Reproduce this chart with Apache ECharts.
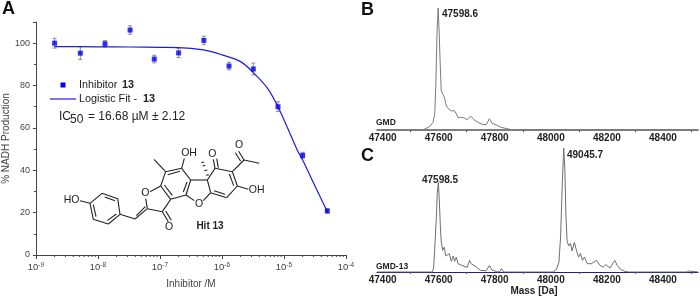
<!DOCTYPE html>
<html><head><meta charset="utf-8">
<style>html,body{margin:0;padding:0;background:#fff}#c{width:700px;height:297px}</style>
<script src="https://cdn.jsdelivr.net/npm/echarts@6/dist/echarts.min.js"></script>
</head><body><div id="c"></div>
<script>
// Panel A
const inhibitorConc=[2e-9,5.2e-9,1.3e-8,3.3e-8,8.1e-8,2e-7,5.1e-7,1.3e-6,3.2e-6,8e-6,2e-5,5e-5];
const nadhProduction=[100,95.3,99.7,106.2,92.5,95.4,101.3,89.2,87.8,70,47,20.8];
const nadhError=[2.3,3,1.5,2,1.8,2.2,2,1.8,2.8,2.3,1.5,1];
const fitConc=[2e-9,1e-8,3.2e-8,1e-7,2e-7,5e-7,1e-6,2e-6,3.2e-6,5.4e-6,8e-6,1.12e-5,1.64e-5,2e-5,3.2e-5,5e-5];
const fitValue=[98.4,98.3,98.2,98,97.9,96.8,94.5,91.3,86.1,78.8,70,60.5,49.5,44.8,32.2,20.4];
const yTicksA=[0,20,40,60,80,100];
const xMinorDigits=[2,3,4,5,6,7,8,9];
const xDecades=[1e-9,1e-8,1e-7,1e-6,1e-5];
// Panel B
const massB=[47380,47544,47550,47568,47580,47586,47590,47594,47598,47601,47605,47609,47615,47621,47625,47631,47638,47645,47655,47663,47669,47678,47690,47702,47714,47726,47740,47758,47770,47781,47790,47806,47821,47841,47859,48525];
const intensityB=[0,0,1.2,2.9,6.4,13.3,38,79,100,84.6,57,32.5,29,26.5,21.6,18.3,19.3,15.5,16,13.3,10,10.5,10,8.4,11.4,8.4,6.2,4.5,4.5,9.2,5.6,4,2.3,1.2,0.3,0];
// Panel C
const massC=[47380,47577,47582,47587,47592,47595,47599,47602,47606,47609,47614,47620,47625,47631,47638,47645,47652,47657,47663,47669,47683,47702,47710,47716,47721,47734,47750,47770,47781,47790,47810,47819,47824,47831,48008,48020,48029,48035,48041,48046,48050,48054,48058,48064,48070,48076,48084,48092,48099,48106,48113,48120,48130,48145,48163,48175,48187,48196,48211,48228,48237,48249,48265,48277,48485,48493,48500,48525];
const intensityC=[0,0,3.2,23.5,45,64,72,59,37,25,17.4,20,13,12,14.7,8.6,12.8,8.6,12,6.7,5.3,3.7,9.4,6.7,8,4,1.3,1,5.3,1.6,0,0.5,2.7,0,0,2,8,29,72,100,83,45,25,21,23,17,24,17,12,15,9.4,12,6.7,6.7,9.4,5.3,4,6,3.2,9.4,5.3,2,0.5,0,0,0.8,0,0];
const massLabels=[47400,47600,47800,48000,48200,48400];
const massTicks=[47500,47700,47900,48100,48300,48500];

const zip=(a,b)=>a.map((v,i)=>[v,b[i]]);
const FONT='"Liberation Sans",Arial,sans-serif';
const DARK='#444', SPEC='#6e6e6e';

// structure drawing (reference units: 3 per pixel, origin 0,150)
const P=(x,y)=>[x/3,150+y/3];
const singleBonds=[
 [270,160,306,130],[353,146,360,193],[325,222,280,208],[240,152,270,160],[360,193,405,207],
 [442,176,437,146],[450,125,482,108],[482,108,497,65],[442,176,487,185],[487,185,512,148],
 [497,65,462,28],[545,55,572,90],[558,135,512,148],[545,55,553,25],[572,90,622,90],
 [622,90,632,128],[632,128,610,152],[583,152,558,135],[622,90,645,55],[645,55,697,65],
 [712,108,680,143],[697,65,732,30],[732,30,778,40],[712,108,745,118]];
const doubleBonds=[
 [306,130,353,146,314,141,345,152],[360,193,325,222,349,192,322,212],[280,208,270,160,288,200,280,164],
 [405,207,442,176,409,197,436,170],[487,185,505,215,497,183,514,211],[512,148,482,108,517,136,493,105],
 [497,65,545,55,503,74,540,64],[572,90,558,135,561,96,550,126],[697,65,712,108,688,72,701,107],
 [680,143,632,128,675,133,642,122],[645,55,640,28,655,53,650,26],[732,30,716,4,722,34,706,8]];
const hashBonds=[[618,76,627,74],[613,62,622,60],[608,48,616,46],[604,38,612,36]];
const atoms=[['HO',215,151],['O',436,130],['O',507,230],['OH',567,10],['O',597,161],['O',637,12],['O',717,-15],['OH',770,121]];
const mol=[];
const seg=(a,b,c,d,w)=>mol.push({type:'line',shape:{x1:P(a,b)[0],y1:P(a,b)[1],x2:P(c,d)[0],y2:P(c,d)[1]},style:{stroke:'#222',lineWidth:w||1.1},silent:true});
singleBonds.forEach(s=>seg(...s));
doubleBonds.forEach(d=>{seg(d[0],d[1],d[2],d[3]);seg(d[4],d[5],d[6],d[7]);});
hashBonds.forEach(h=>seg(...h));
const txt=(t,x,y,o)=>({type:'text',x,y,silent:true,style:Object.assign({text:t,font:'10px '+FONT,fill:'#222',align:'left',verticalAlign:'middle'},o||{})});
atoms.forEach(a=>{const p=P(a[1],a[2]);mol.push(txt(a[0],p[0],p[1],{align:'center',font:'10.5px '+FONT}));});

const sup10=v=>'{b|10}{s|'+Math.round(Math.log10(v))+'}';
const tickSeries=(values,len)=>({type:'custom',xAxisIndex:0,yAxisIndex:0,silent:true,z:1,data:values.map(v=>[v,0]),
  renderItem:(p,api)=>{const c=api.coord([api.value(0),0]);return {type:'line',shape:{x1:c[0],y1:c[1],x2:c[0],y2:c[1]+len},style:{stroke:DARK,lineWidth:1}};}});

const opt={
 animation:false,
 grid:[
  {left:35,top:22,width:311,height:233},
  {left:377,top:8,width:321,height:122},
  {left:377,top:148,width:321,height:125}
 ],
 xAxis:[
  {type:'log',gridIndex:0,logBase:10,min:1e-9,max:1e-4,
   axisLine:{lineStyle:{color:DARK,width:1}},
   axisTick:{show:true,length:4,lineStyle:{color:DARK}},
   splitLine:{show:false},
   axisLabel:{margin:7,formatter:sup10,rich:{b:{fontFamily:FONT,fontSize:9.5,color:DARK},s:{fontFamily:FONT,fontSize:6.5,color:DARK,verticalAlign:'top',padding:[0,0,4,0]}}},
   name:'Inhibitor /M',nameLocation:'middle',nameGap:24,nameTextStyle:{fontFamily:FONT,fontSize:10,color:DARK}},
  {type:'value',gridIndex:1,min:47380,max:48525,
   axisLine:{lineStyle:{color:'#555',width:1.5}},
   axisTick:{customValues:massTicks,length:2,lineStyle:{color:'#555'}},
   axisLabel:{customValues:massLabels,margin:3,formatter:v=>String(v),fontFamily:FONT,fontWeight:'bold',fontSize:10,color:'#222'},
   splitLine:{show:false}},
  {type:'value',gridIndex:2,min:47380,max:48525,
   axisLine:{lineStyle:{color:'#1f1f96',width:1.2}},
   axisTick:{customValues:massTicks,length:2,lineStyle:{color:'#555'}},
   axisLabel:{customValues:massLabels,margin:3,formatter:v=>String(v),fontFamily:FONT,fontWeight:'bold',fontSize:10,color:'#222'},
   splitLine:{show:false},
   name:'Mass [Da]',nameLocation:'middle',nameGap:14,nameTextStyle:{fontFamily:FONT,fontWeight:'bold',fontSize:10,color:'#222',padding:[0,7,0,0]}}
 ],
 yAxis:[
  {type:'value',gridIndex:0,min:0,max:110,interval:20,
   axisLine:{show:true,lineStyle:{color:DARK,width:1}},
   axisTick:{show:true,length:3,lineStyle:{color:DARK}},
   minorTick:{show:true,splitNumber:2,length:2,lineStyle:{color:DARK}},
   splitLine:{show:false},
   axisLabel:{customValues:yTicksA,margin:6,fontFamily:FONT,fontSize:9,color:DARK},
   name:'% NADH Production',nameLocation:'middle',nameGap:24,nameTextStyle:{fontFamily:FONT,fontSize:10,color:DARK}},
  {type:'value',gridIndex:1,min:0,max:100,show:false},
  {type:'value',gridIndex:2,min:0,max:100,show:false}
 ],
 series:[
  tickSeries(xDecades.flatMap(d=>xMinorDigits.map(m=>d*m)),2),
  {type:'custom',xAxisIndex:0,yAxisIndex:0,silent:true,z:1,
   data:inhibitorConc.map((c,i)=>[c,nadhProduction[i],nadhError[i]]),
   renderItem:(p,api)=>{
    const x=api.value(0),y=api.value(1),e=api.value(2);
    const a=api.coord([x,y+e]),b=api.coord([x,y-e]);
    const st={stroke:'#8a8a8a',lineWidth:1};
    return {type:'group',children:[
     {type:'line',shape:{x1:a[0],y1:a[1],x2:b[0],y2:b[1]},style:st},
     {type:'line',shape:{x1:a[0]-2,y1:a[1],x2:a[0]+2,y2:a[1]},style:st},
     {type:'line',shape:{x1:b[0]-2,y1:b[1],x2:b[0]+2,y2:b[1]},style:st}]};
   }},
  {name:'Logistic Fit - 13',type:'line',xAxisIndex:0,yAxisIndex:0,data:zip(fitConc,fitValue),smooth:0.35,symbol:'none',
   lineStyle:{color:'#1c1ce6',width:1.2},itemStyle:{color:'#1c1ce6'},z:2},
  {name:'Inhibitor 13',type:'scatter',xAxisIndex:0,yAxisIndex:0,data:zip(inhibitorConc,nadhProduction),symbol:'rect',symbolSize:5,itemStyle:{color:'#0000f0'},z:3},
  {type:'line',xAxisIndex:1,yAxisIndex:1,data:zip(massB,intensityB),symbol:'none',lineStyle:{color:'#7a7a7a',width:1},z:2},
  {type:'line',xAxisIndex:2,yAxisIndex:2,data:zip(massC,intensityC),symbol:'none',lineStyle:{color:SPEC,width:1},z:2}
 ],
 graphic:{elements:[
  txt('A',2,9,{font:'bold 18px '+FONT,fill:'#111'}),
  txt('B',361,10,{font:'bold 18px '+FONT,fill:'#111'}),
  txt('C',361,156,{font:'bold 18px '+FONT,fill:'#111'}),
  txt('47598.6',442,14,{font:'bold 10px '+FONT}),
  txt('47598.5',422,180,{font:'bold 10px '+FONT}),
  txt('49045.7',567,155,{font:'bold 10px '+FONT}),
  txt('GMD',376,123,{font:'bold 8.5px '+FONT}),
  txt('GMD-13',376,267,{font:'bold 8.5px '+FONT}),
  {type:'rect',shape:{x:60.5,y:82.5,width:5,height:5},style:{fill:'#0000f0'},silent:true},
  {type:'line',shape:{x1:50,y1:99,x2:76,y2:99},style:{stroke:'#1c1ce6',lineWidth:1.2},silent:true},
  txt('Inhibitor ',79,85,{font:'10.8px '+FONT}),
  txt('13',122,85,{font:'bold 10.8px '+FONT}),
  txt('Logistic Fit - ',79,99,{font:'10.8px '+FONT}),
  txt('13',143,99,{font:'bold 10.8px '+FONT}),
  txt('IC',59,117,{font:'12px '+FONT}),
  txt('50',70,120,{font:'12px '+FONT}),
  txt('= 16.68 \u00b5M \u00b1 2.12',88,117,{font:'12px '+FONT}),
  txt('Hit 13',210,226,{align:'center',font:'bold 10px '+FONT})
 ].concat(mol)}
};
const chart=echarts.init(document.getElementById('c'),null,{renderer:'canvas'});
chart.setOption(opt);
</script></body></html>
